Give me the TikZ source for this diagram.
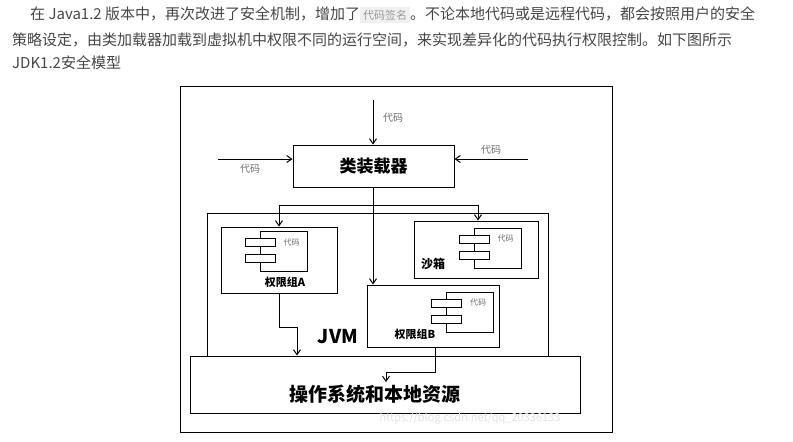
\documentclass[tikz,border=0pt]{standalone}
\usepackage{fontspec}
\setmainfont{Noto Sans CJK SC}
\newfontfamily\cjk{Noto Sans CJK SC}
\usetikzlibrary{arrows.meta}
\definecolor{bodytext}{RGB}{70,70,70}
\definecolor{codegray}{RGB}{110,110,110}
\tikzset{
  box/.style={draw, line width=1pt, inner sep=0pt},
  flow/.style={-{Straight Barb[length=5pt,width=7pt]}, line width=1pt},
  codelabel/.style={font=\fontsize{10}{10}\selectfont\cjk, text=codegray},
  para/.style={anchor=west, font=\fontsize{15}{15}\selectfont\cjk, text=bodytext, inner sep=0pt},
}
\begin{document}
\begin{tikzpicture}[x=1pt,y=-1pt]
   \useasboundingbox (0,0) rectangle (793,442);
   \fill [white] (0,0) rectangle (793,442);

   % Intro text
   \node (line1) [para] at (30,15) {在 Java1.2 版本中，再次改进了安全机制，增加了\colorbox{gray!12}{\fontsize{11}{11}\selectfont\textcolor{gray!80}{代码签名}}。不论本地代码或是远程代码，都会按照用户的安全};
   \node (line2) [para] at (12,40) {策略设定，由类加载器加载到虚拟机中权限不同的运行空间，来实现差异化的代码执行权限控制。如下图所示};
   \node (line3) [para] at (12,63) {JDK1.2安全模型};

   % Picture frame
   \draw [line width=1pt] (180,86) rectangle (612,432);

   % Class loader
   \node (loader) [box, minimum width=161pt, minimum height=42pt,
     font=\fontsize{17}{17}\selectfont\bfseries] at (373.5,166) {类装载器};
   \coordinate (topin) at (373,100);
   \coordinate (leftin) at (218,159);
   \coordinate (rightin) at (528,159);
   \draw [flow] (topin) -- (loader.north -| topin);
   \draw [flow] (leftin) -- (loader.west |- leftin);
   \draw [flow] (rightin) -- (loader.east |- rightin);
   \node (ctop) [codelabel] at (393,118) {代码};
   \node (cleft) [codelabel] at (250,169) {代码};
   \node (cright) [codelabel] at (491,150) {代码};

   % JVM
   \node (jvm) [box, minimum width=341pt, minimum height=143pt] at (377.5,284.5) {};
   \node (jvmlabel) [font=\fontsize{19}{19}\selectfont\bfseries] at (338,337) {JVM};

   % Permission groups
   \node (groupA) [box, minimum width=116pt, minimum height=66pt] at (279,260) {};
   \node (sandbox) [box, minimum width=124pt, minimum height=57pt] at (476,249.5) {};
   \node (groupB) [box, minimum width=132pt, minimum height=62pt] at (433,316) {};

   % component icons
   \foreach \name/\cx/\cy in {A/283.5/251.5, S/497.5/248, B/470/312} {
     \node (comp\name) [box, minimum width=47pt, minimum height=40pt] at (\cx,\cy) {};
     \node (tabup\name) [box, fill=white, minimum width=30pt, minimum height=8pt] at (\cx-23.5,\cy-9) {};
     \node (tablow\name) [box, fill=white, minimum width=30pt, minimum height=8pt] at (\cx-23.5,\cy+7) {};
     \node (code\name) [codelabel, font=\fontsize{8}{8}\selectfont\cjk] at (\cx+8,\cy-9) {代码};
   }
   \node (labelA) [font=\fontsize{11}{11}\selectfont\bfseries] at (285,282) {权限组A};
   \node (labelS) [font=\fontsize{12}{12}\selectfont\bfseries] at (433,264) {沙箱};
   \node (labelB) [font=\fontsize{11}{11}\selectfont\bfseries] at (415,334) {权限组B};

   % OS
   \node (os) [box, minimum width=390pt, minimum height=57pt] at (385,384.5) {};
   \node (oslabel) [font=\fontsize{19}{19}\selectfont\bfseries] at (375,394) {操作系统和本地资源};
   \node (mark) [text=gray!22, font=\fontsize{11}{11}\selectfont] at (470,418) {https://blog.csdn.net/qq\_20336133};

   % loader to groups
   \coordinate (split) at (373,205);
   \draw [line width=1pt] (loader.south -| split) -- (split);
   \draw [flow] (split) -| (groupA.north);
   \draw [flow] (split) -| (sandbox.north -| 478,0);
   \draw [flow] (split) -- (groupB.north -| split);

   % groups to OS
   \coordinate (bendA) at (297,327);
   \coordinate (bendB) at (386,372);
   \draw [flow] (groupA.south) |- (bendA) -- (os.north -| bendA);
   \draw [flow] (groupB.south -| 435,0) |- (bendB) -- ++(0,10);
\end{tikzpicture}
\end{document}
